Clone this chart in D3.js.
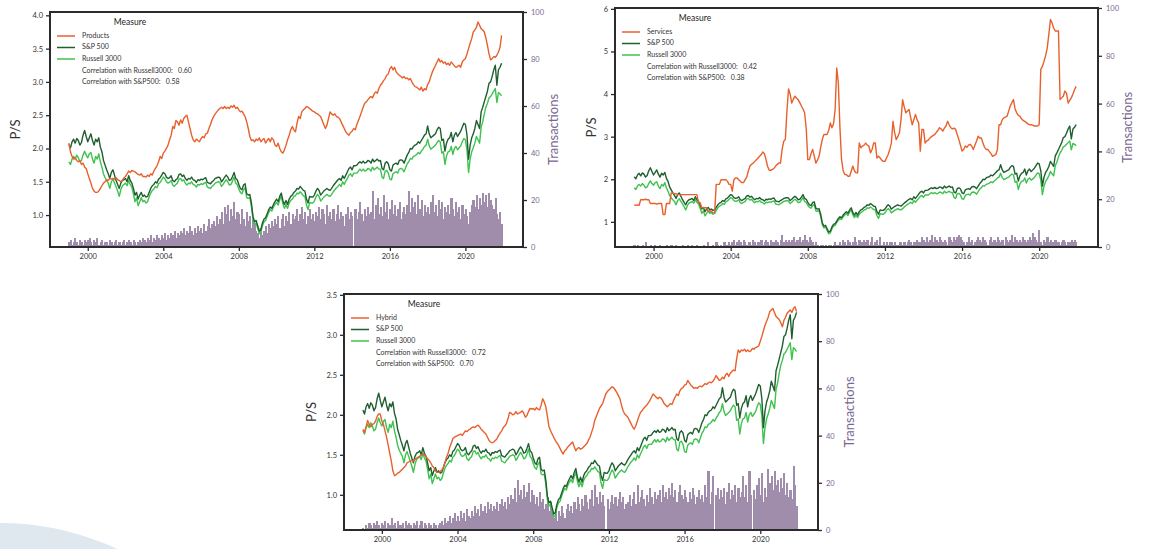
<!DOCTYPE html>
<html>
<head>
<meta charset="utf-8">
<script src="https://cdn.jsdelivr.net/npm/d3@7"></script>
<style>
  body { margin: 0; background: #fff; }
  svg { display: block; font-family: Lato, "Open Sans", sans-serif; }
</style>
</head>
<body>
<div id="chart"></div>
<script>
// monthly values, Jan 1999 .. Dec 2021
var startYear = 1999

var sp500 = [
  2.06, 2.01, 2.10, 2.14, 2.08, 2.15, 2.12, 2.05, 2.09, 2.20, 2.27, 2.18,
  2.10, 2.16, 2.22, 2.12, 2.05, 2.14, 2.10, 2.16, 2.02, 1.95, 1.82, 1.75,
  1.68, 1.62, 1.55, 1.64, 1.68, 1.60, 1.52, 1.46, 1.40, 1.48, 1.52, 1.53,
  1.55, 1.50, 1.59, 1.52, 1.48, 1.40, 1.30, 1.34, 1.24, 1.30, 1.34, 1.28,
  1.30, 1.27, 1.28, 1.34, 1.40, 1.44, 1.46, 1.50, 1.48, 1.54, 1.56, 1.60,
  1.64, 1.62, 1.57, 1.55, 1.56, 1.59, 1.52, 1.50, 1.53, 1.55, 1.61, 1.62,
  1.58, 1.60, 1.55, 1.52, 1.55, 1.54, 1.57, 1.53, 1.52, 1.49, 1.53, 1.52,
  1.54, 1.53, 1.55, 1.56, 1.49, 1.48, 1.47, 1.50, 1.52, 1.55, 1.56, 1.57,
  1.56, 1.50, 1.53, 1.57, 1.60, 1.57, 1.52, 1.53, 1.58, 1.64, 1.55, 1.53,
  1.46, 1.40, 1.38, 1.45, 1.47, 1.32, 1.30, 1.31, 1.18, 0.98, 0.90, 0.92,
  0.84, 0.76, 0.78, 0.88, 0.94, 0.96, 1.02, 1.08, 1.12, 1.10, 1.16, 1.20,
  1.24, 1.20, 1.28, 1.33, 1.22, 1.16, 1.22, 1.16, 1.24, 1.28, 1.30, 1.34,
  1.36, 1.40, 1.39, 1.43, 1.40, 1.37, 1.36, 1.24, 1.18, 1.28, 1.27, 1.27,
  1.30, 1.36, 1.40, 1.37, 1.30, 1.33, 1.36, 1.38, 1.40, 1.38, 1.37, 1.40,
  1.44, 1.47, 1.50, 1.53, 1.55, 1.52, 1.59, 1.55, 1.60, 1.65, 1.70, 1.72,
  1.68, 1.74, 1.74, 1.75, 1.78, 1.80, 1.78, 1.81, 1.78, 1.79, 1.82, 1.81,
  1.78, 1.84, 1.80, 1.82, 1.84, 1.81, 1.82, 1.70, 1.68, 1.78, 1.80, 1.77,
  1.68, 1.66, 1.75, 1.77, 1.78, 1.76, 1.82, 1.83, 1.82, 1.78, 1.84, 1.90,
  1.94, 2.00, 1.99, 2.03, 2.05, 2.06, 2.10, 2.08, 2.12, 2.16, 2.20, 2.22,
  2.34, 2.22, 2.16, 2.18, 2.20, 2.22, 2.28, 2.32, 2.30, 2.12, 2.14, 1.96,
  2.08, 2.14, 2.16, 2.24, 2.10, 2.20, 2.24, 2.18, 2.22, 2.26, 2.32, 2.38,
  2.36, 2.20, 1.84, 2.05, 2.16, 2.22, 2.30, 2.42, 2.36, 2.30, 2.55, 2.62,
  2.70, 2.78, 2.86, 2.98, 3.00, 3.08, 3.18, 3.25, 2.95, 3.18, 3.22, 3.28
]

var russell3000 = [
  1.80, 1.76, 1.84, 1.88, 1.84, 1.90, 1.86, 1.80, 1.82, 1.90, 1.96, 1.90,
  1.86, 1.92, 1.94, 1.84, 1.78, 1.88, 1.84, 1.92, 1.80, 1.72, 1.62, 1.56,
  1.52, 1.48, 1.40, 1.50, 1.54, 1.48, 1.42, 1.36, 1.28, 1.38, 1.44, 1.46,
  1.48, 1.44, 1.52, 1.46, 1.42, 1.32, 1.20, 1.26, 1.14, 1.20, 1.26, 1.20,
  1.22, 1.18, 1.20, 1.27, 1.33, 1.37, 1.39, 1.43, 1.41, 1.47, 1.49, 1.53,
  1.57, 1.55, 1.50, 1.48, 1.49, 1.52, 1.45, 1.43, 1.46, 1.48, 1.54, 1.55,
  1.51, 1.53, 1.48, 1.45, 1.48, 1.47, 1.50, 1.46, 1.45, 1.42, 1.46, 1.45,
  1.47, 1.46, 1.48, 1.49, 1.42, 1.41, 1.40, 1.43, 1.45, 1.48, 1.49, 1.50,
  1.49, 1.43, 1.46, 1.50, 1.53, 1.50, 1.45, 1.46, 1.51, 1.57, 1.48, 1.46,
  1.39, 1.34, 1.32, 1.38, 1.41, 1.26, 1.25, 1.26, 1.13, 0.94, 0.86, 0.88,
  0.80, 0.72, 0.74, 0.84, 0.90, 0.92, 0.98, 1.04, 1.08, 1.06, 1.12, 1.16,
  1.19, 1.15, 1.23, 1.28, 1.17, 1.10, 1.16, 1.10, 1.18, 1.22, 1.24, 1.28,
  1.29, 1.33, 1.32, 1.35, 1.32, 1.29, 1.28, 1.15, 1.08, 1.19, 1.18, 1.18,
  1.21, 1.27, 1.31, 1.28, 1.21, 1.24, 1.27, 1.29, 1.31, 1.29, 1.28, 1.31,
  1.35, 1.38, 1.41, 1.43, 1.46, 1.43, 1.50, 1.46, 1.51, 1.55, 1.60, 1.62,
  1.58, 1.63, 1.63, 1.63, 1.66, 1.69, 1.66, 1.69, 1.66, 1.67, 1.70, 1.69,
  1.66, 1.72, 1.68, 1.70, 1.72, 1.69, 1.69, 1.57, 1.55, 1.66, 1.67, 1.63,
  1.54, 1.53, 1.62, 1.64, 1.65, 1.63, 1.69, 1.70, 1.69, 1.65, 1.71, 1.77,
  1.80, 1.85, 1.84, 1.88, 1.89, 1.91, 1.94, 1.92, 1.96, 1.99, 2.03, 2.05,
  2.14, 2.04, 1.99, 2.01, 2.03, 2.05, 2.09, 2.12, 2.10, 1.93, 1.95, 1.76,
  1.89, 1.95, 1.96, 2.03, 1.91, 2.00, 2.03, 1.98, 2.01, 2.04, 2.10, 2.15,
  2.13, 1.98, 1.64, 1.84, 1.95, 2.01, 2.08, 2.18, 2.13, 2.08, 2.32, 2.40,
  2.52, 2.62, 2.68, 2.76, 2.78, 2.82, 2.86, 2.90, 2.69, 2.84, 2.82, 2.79
]

var products = [
  2.08, 1.95, 1.88, 1.84, 1.86, 1.82, 1.80, 1.82, 1.76, 1.78, 1.72, 1.70,
  1.62, 1.55, 1.48, 1.40, 1.36, 1.34, 1.34, 1.36, 1.40, 1.44, 1.48, 1.50,
  1.53, 1.52, 1.55, 1.54, 1.55, 1.54, 1.56, 1.53, 1.52, 1.50, 1.52, 1.56,
  1.58, 1.62, 1.66, 1.64, 1.67, 1.66, 1.65, 1.63, 1.61, 1.60, 1.62, 1.58,
  1.58, 1.57, 1.60, 1.58, 1.62, 1.60, 1.66, 1.70, 1.74, 1.80, 1.88, 1.85,
  1.93, 1.96, 2.00, 2.05, 2.13, 2.20, 2.33, 2.30, 2.42, 2.40, 2.35, 2.43,
  2.38, 2.45, 2.48, 2.50, 2.40, 2.30, 2.20, 2.13, 2.10, 2.14, 2.12, 2.10,
  2.15, 2.18, 2.16, 2.22, 2.23, 2.30, 2.36, 2.43, 2.48, 2.52, 2.55, 2.58,
  2.60, 2.62, 2.60, 2.63, 2.60, 2.62, 2.60, 2.64, 2.62, 2.65, 2.60, 2.62,
  2.58, 2.55, 2.56, 2.52, 2.48, 2.40, 2.30, 2.18, 2.12, 2.13, 2.10, 2.14,
  2.12, 2.16, 2.10, 2.13, 2.15, 2.08, 2.12, 2.15, 2.10, 2.16, 2.13, 2.05,
  2.03, 2.08, 2.00, 1.95, 1.93, 1.98, 2.05, 2.13, 2.20, 2.28, 2.33, 2.28,
  2.25, 2.38, 2.48, 2.45, 2.55, 2.58, 2.60, 2.63, 2.62, 2.60, 2.58, 2.56,
  2.55, 2.53, 2.52, 2.50, 2.48, 2.42, 2.36, 2.30, 2.35, 2.45, 2.55, 2.52,
  2.50, 2.52, 2.48, 2.47, 2.45, 2.40, 2.35, 2.30, 2.25, 2.22, 2.20, 2.24,
  2.26, 2.30, 2.28, 2.36, 2.42, 2.48, 2.55, 2.62, 2.68, 2.70, 2.73, 2.76,
  2.78, 2.76, 2.82, 2.85, 2.83, 2.90, 2.95, 2.98, 3.02, 3.05, 3.10, 3.12,
  3.20, 3.23, 3.18, 3.22, 3.15, 3.12, 3.10, 3.08, 3.06, 3.08, 3.05, 3.06,
  3.03, 3.05, 3.00, 2.96, 2.93, 2.92, 2.90, 2.88, 2.92, 2.86, 2.90, 2.88,
  2.96, 3.00, 3.08, 3.15, 3.20, 3.25, 3.30, 3.35, 3.30, 3.32, 3.28, 3.30,
  3.26, 3.28, 3.25, 3.30, 3.27, 3.24, 3.22, 3.23, 3.25, 3.22, 3.30, 3.33,
  3.35, 3.42, 3.50, 3.58, 3.65, 3.75, 3.78, 3.82, 3.90, 3.85, 3.80, 3.78,
  3.75, 3.66, 3.55, 3.42, 3.33, 3.35, 3.38, 3.37, 3.40, 3.45, 3.52, 3.70
]

var services = [
  1.39, 1.39, 1.40, 1.39, 1.52, 1.52, 1.52, 1.53, 1.52, 1.52, 1.43, 1.43,
  1.43, 1.43, 1.42, 1.43, 1.43, 1.43, 1.17, 1.17, 1.43, 1.43, 1.43, 1.68,
  1.68, 1.66, 1.66, 1.64, 1.64, 1.64, 1.64, 1.64, 1.64, 1.64, 1.64, 1.64,
  1.64, 1.64, 1.64, 1.64, 1.45, 1.45, 1.33, 1.33, 1.33, 1.33, 1.25, 1.25,
  1.25, 1.21, 1.21, 1.88, 1.88, 1.88, 1.99, 1.99, 1.99, 1.99, 1.95, 1.88,
  1.88, 1.72, 1.99, 2.03, 2.03, 1.99, 1.95, 1.92, 1.92, 1.99, 2.05, 2.20,
  2.31, 2.35, 2.38, 2.42, 2.46, 2.50, 2.54, 2.58, 2.64, 2.60, 2.46, 2.30,
  2.21, 2.21, 2.23, 2.26, 2.31, 2.35, 2.38, 2.38, 2.70, 2.89, 2.93, 3.60,
  4.12, 4.00, 3.79, 3.88, 3.95, 3.90, 3.87, 3.80, 3.72, 3.65, 3.56, 3.20,
  2.46, 2.46, 2.60, 2.70, 2.55, 2.38, 2.45, 2.54, 2.75, 2.93, 3.05, 3.05,
  3.05, 3.15, 3.32, 3.21, 3.30, 3.64, 4.61, 4.26, 3.20, 2.46, 2.20, 2.11,
  2.11, 2.07, 2.07, 2.19, 2.31, 2.20, 2.15, 2.15, 2.85, 2.74, 2.78, 2.80,
  2.85, 2.80, 2.78, 2.62, 2.70, 2.85, 2.85, 2.50, 2.54, 2.50, 2.45, 2.42,
  2.42, 2.50, 2.58, 2.70, 2.85, 3.36, 3.10, 2.93, 3.00, 3.09, 3.40, 3.87,
  3.70, 3.56, 3.60, 3.64, 3.45, 3.28, 3.40, 3.52, 3.40, 3.32, 2.66, 3.17,
  3.17, 2.85, 2.90, 2.92, 2.97, 3.00, 3.03, 3.05, 3.10, 3.15, 3.21, 3.18,
  3.13, 3.20, 3.25, 3.36, 3.28, 3.21, 3.18, 3.20, 3.17, 3.05, 2.93, 2.80,
  2.66, 2.70, 2.78, 2.75, 2.80, 2.82, 2.78, 2.70, 2.80, 2.90, 3.01, 2.97,
  2.97, 2.85, 2.75, 2.70, 2.70, 2.65, 2.60, 2.54, 2.56, 2.58, 2.70, 3.28,
  3.28, 3.40, 3.44, 3.46, 3.48, 3.60, 3.72, 3.80, 3.87, 3.65, 3.56, 3.50,
  3.48, 3.42, 3.38, 3.36, 3.33, 3.30, 3.28, 3.28, 3.27, 3.25, 3.25, 3.25,
  3.28, 4.58, 4.65, 4.77, 4.90, 5.08, 5.40, 5.75, 5.67, 5.55, 5.48, 5.48,
  5.48, 3.87, 3.91, 3.95, 4.07, 4.02, 3.79, 3.85, 3.91, 4.00, 4.10, 4.18
]

var hybrid = [
  1.82, 1.78, 1.85, 1.93, 1.88, 1.85, 1.88, 1.89, 1.92, 1.98, 2.01, 2.01,
  1.92, 1.88, 1.80, 1.72, 1.62, 1.52, 1.42, 1.30, 1.24, 1.25, 1.27, 1.28,
  1.30, 1.32, 1.34, 1.36, 1.40, 1.41, 1.42, 1.43, 1.42, 1.44, 1.46, 1.47,
  1.48, 1.50, 1.51, 1.50, 1.48, 1.45, 1.43, 1.40, 1.36, 1.34, 1.30, 1.28,
  1.28, 1.29, 1.31, 1.34, 1.40, 1.47, 1.52, 1.59, 1.64, 1.70, 1.72, 1.73,
  1.74, 1.75, 1.76, 1.74, 1.77, 1.80, 1.79, 1.81, 1.82, 1.84, 1.85, 1.84,
  1.86, 1.87, 1.85, 1.82, 1.80, 1.78, 1.76, 1.72, 1.68, 1.66, 1.65, 1.66,
  1.68, 1.70, 1.74, 1.77, 1.80, 1.84, 1.86, 1.89, 1.95, 2.03, 2.02, 2.00,
  2.01, 2.04, 2.01, 2.02, 2.03, 2.05, 2.02, 1.97, 1.99, 2.04, 2.08, 2.07,
  2.08, 2.06, 2.09, 2.07, 2.06, 2.12, 2.20, 2.16, 2.10, 1.98, 1.85, 1.80,
  1.76, 1.72, 1.68, 1.65, 1.62, 1.58, 1.54, 1.51, 1.55, 1.57, 1.60, 1.62,
  1.64, 1.66, 1.60, 1.55, 1.58, 1.59, 1.57, 1.58, 1.60, 1.62, 1.64, 1.68,
  1.72, 1.78, 1.84, 1.93, 1.98, 2.03, 2.08, 2.11, 2.14, 2.20, 2.26, 2.29,
  2.31, 2.33, 2.35, 2.34, 2.31, 2.28, 2.24, 2.20, 2.12, 2.05, 2.01, 1.99,
  1.97, 1.93, 1.89, 1.85, 1.82, 1.86, 1.92, 1.98, 2.03, 2.05, 2.08, 2.10,
  2.12, 2.15, 2.18, 2.22, 2.26, 2.24, 2.22, 2.20, 2.22, 2.21, 2.18, 2.14,
  2.12, 2.10, 2.12, 2.14, 2.13, 2.18, 2.22, 2.26, 2.24, 2.30, 2.33, 2.34,
  2.37, 2.38, 2.43, 2.40, 2.37, 2.35, 2.33, 2.34, 2.33, 2.35, 2.36, 2.35,
  2.37, 2.39, 2.38, 2.40, 2.41, 2.40, 2.42, 2.45, 2.49, 2.46, 2.43, 2.44,
  2.47, 2.45, 2.50, 2.52, 2.48, 2.52, 2.54, 2.56, 2.55, 2.70, 2.81, 2.78,
  2.81, 2.80, 2.82, 2.79, 2.81, 2.79, 2.80, 2.83, 2.82, 2.84, 2.85, 2.86,
  2.92, 2.98, 3.05, 3.12, 3.17, 3.22, 3.29, 3.31, 3.33, 3.28, 3.23, 3.21,
  3.19, 3.15, 3.10, 3.18, 3.22, 3.27, 3.29, 3.31, 3.28, 3.33, 3.35, 3.29
]

var productsTx = [
  2, 3, 1, 2, 4, 2, 1, 3, 2, 1, 3, 2,
  3, 4, 2, 1, 3, 2, 4, 1, 2, 3, 1, 2,
  2, 1, 3, 2, 1, 2, 3, 1, 2, 1, 2, 3,
  1, 2, 3, 2, 1, 3, 2, 1, 2, 3, 2, 4,
  3, 2, 4, 3, 5, 2, 4, 3, 5, 4, 3, 5,
  4, 6, 3, 5, 4, 6, 5, 7, 4, 6, 5, 7,
  6, 8, 5, 7, 6, 9, 7, 5, 8, 6, 9, 7,
  8, 6, 10, 7, 9, 12, 8, 10, 11, 9, 13, 10,
  12, 15, 10, 17, 14, 18, 11, 16, 13, 19, 12, 15,
  14, 10, 16, 12, 9, 15, 11, 13, 8, 12, 10, 7,
  6, 4, 8, 5, 7, 9, 6, 10, 8, 11, 9, 12,
  10, 13, 8, 12, 14, 9, 13, 11, 15, 10, 14, 12,
  13, 16, 11, 14, 17, 12, 15, 10, 13, 16, 12, 14,
  11, 15, 13, 17, 12, 16, 14, 10, 18, 13, 15, 12,
  16, 11, 14, 18, 12, 15, 13, 9, 14, 17, 12, 15,
  13, 0, 16, 12, 15, 19, 14, 11, 16, 13, 17, 14,
  15, 24, 12, 18, 21, 14, 17, 13, 22, 15, 19, 12,
  16, 20, 14, 18, 13, 16, 19, 12, 15, 17, 14, 18,
  24, 15, 21, 17, 19, 14, 22, 16, 20, 13, 18, 15,
  17, 14, 19, 22, 15, 18, 13, 20, 16, 19, 12, 17,
  15, 18, 14, 21, 16, 13, 19, 15, 17, 12, 18, 14,
  16, 13, 10, 15, 18, 20, 17, 22, 16, 21, 18, 23,
  19, 22, 17, 23, 20, 18, 16, 21, 14, 12, 15, 10
]

var servicesTx = [
  1, 0, 1, 0, 0, 1, 0, 2, 0, 0, 1, 0,
  0, 1, 0, 0, 1, 0, 0, 0, 1, 0, 0, 1,
  0, 0, 1, 0, 0, 0, 1, 0, 0, 1, 0, 0,
  1, 0, 0, 1, 0, 0, 0, 1, 0, 0, 2, 0,
  0, 1, 0, 2, 1, 0, 1, 0, 2, 1, 1, 2,
  1, 2, 3, 1, 2, 3, 2, 1, 3, 2, 1, 2,
  2, 1, 3, 2, 1, 2, 2, 3, 1, 2, 3, 2,
  1, 3, 2, 2, 3, 2, 1, 3, 5, 2, 3, 2,
  3, 2, 3, 4, 2, 3, 3, 4, 2, 3, 5, 3,
  2, 4, 3, 2, 1, 2, 1, 0, 1, 1, 0, 1,
  0, 1, 1, 0, 1, 2, 1, 1, 2, 1, 3, 2,
  1, 3, 2, 1, 2, 4, 2, 1, 3, 2, 2, 3,
  2, 3, 1, 2, 4, 1, 2, 3, 1, 4, 1, 2,
  1, 2, 1, 2, 2, 1, 2, 1, 1, 2, 2, 1,
  2, 1, 2, 3, 2, 1, 2, 2, 3, 2, 2, 4,
  3, 2, 4, 2, 3, 5, 2, 4, 3, 2, 4, 3,
  2, 3, 2, 1, 4, 3, 2, 4, 3, 4, 5, 4,
  3, 2, 1, 2, 4, 2, 3, 1, 2, 3, 4, 3,
  2, 4, 3, 2, 1, 3, 4, 2, 3, 2, 4, 3,
  2, 3, 1, 4, 3, 2, 3, 5, 2, 4, 3, 2,
  3, 2, 4, 3, 2, 3, 4, 3, 6, 4, 3, 2,
  7, 2, 1, 3, 2, 4, 2, 3, 2, 2, 3, 2,
  2, 1, 2, 3, 2, 1, 2, 2, 3, 2, 3, 2
]

var hybridTx = [
  1, 0, 2, 1, 3, 2, 1, 3, 2, 4, 2, 1,
  3, 2, 4, 1, 3, 2, 5, 2, 3, 1, 4, 2,
  2, 3, 1, 4, 2, 3, 2, 1, 3, 2, 4, 1,
  2, 4, 1, 3, 2, 1, 3, 2, 1, 3, 2, 1,
  2, 3, 4, 2, 5, 3, 4, 6, 3, 5, 7, 4,
  6, 4, 8, 5, 7, 4, 9, 6, 5, 8, 6, 10,
  7, 9, 6, 11, 8, 10, 7, 12, 9, 11, 8, 10,
  9, 12, 8, 11, 13, 10, 12, 9, 14, 11, 15, 13,
  18, 12, 21, 15, 17, 13, 19, 14, 16, 20, 12, 17,
  15, 11, 14, 10, 16, 12, 13, 9, 11, 14, 8, 12,
  7, 5, 9, 4, 8, 6, 10, 7, 5, 9, 11, 8,
  10, 7, 12, 9, 14, 11, 8, 13, 10, 15, 12, 9,
  13, 17, 10, 19, 14, 11, 16, 12, 15, 10, 0, 13,
  9, 12, 15, 11, 14, 10, 13, 16, 12, 14, 9, 11,
  12, 15, 10, 13, 16, 11, 19, 12, 14, 17, 13, 10,
  15, 12, 18, 14, 11, 16, 13, 15, 17, 12, 19, 14,
  16, 13, 18, 15, 20, 14, 17, 12, 16, 19, 15, 13,
  17, 14, 12, 16, 13, 18, 15, 11, 14, 17, 13, 15,
  12, 19, 14, 25, 11, 16, 23, 0, 15, 18, 13, 17,
  14, 18, 11, 16, 20, 13, 17, 15, 19, 12, 18, 14,
  16, 23, 14, 19, 12, 25, 15, 0, 17, 13, 19, 22,
  15, 24, 12, 18, 14, 26, 20, 23, 17, 25, 19, 21,
  16, 22, 18, 24, 15, 20, 14, 17, 13, 27, 19, 10
]

var yearTicks = [2000, 2004, 2008, 2012, 2016, 2020]
var txTicks = [0, 20, 40, 60, 80, 100]

var charts = [
  { name: 'Products', measure: products, tx: productsTx, corrR: '0.60', corrS: '0.58',
    left: 50, right: 523, top: 12, bottom: 247, yDomain: [0.52, 4.05],
    yTicks: [1.0, 1.5, 2.0, 2.5, 3.0, 3.5, 4.0], yFmt: '.1f', psX: 17, txX: 555 },
  { name: 'Services', measure: services, tx: servicesTx, corrR: '0.42', corrS: '0.38',
    left: 615, right: 1098, top: 8, bottom: 247, yDomain: [0.41, 6.02],
    yTicks: [1, 2, 3, 4, 5, 6], yFmt: 'd', psX: 593, txX: 1129 },
  { name: 'Hybrid', measure: hybrid, tx: hybridTx, corrR: '0.72', corrS: '0.70',
    left: 344, right: 818, top: 294, bottom: 530, yDomain: [0.56, 3.51],
    yTicks: [1.0, 1.5, 2.0, 2.5, 3.0, 3.5], yFmt: '.1f', psX: 313, txX: 851 }
]

var orange = '#e8602c'
var darkGreen = '#1f5f2f'
var lightGreen = '#3fc24f'
var barColor = '#9f8dab'
var axisColor = '#2b2b2b'
var purpleText = '#7a6690'

var svg = d3.select('#chart')
  .append('svg')
  .attr('width', 1150)
  .attr('height', 549)

// decorative background shape, bottom left
svg.append('circle')
  .attr('cx', 0)
  .attr('cy', 800)
  .attr('r', 277)
  .attr('fill', '#dfe8ef')

function monthYear(i) {
  return startYear + i / 12
}

charts.forEach(function(c) {

  var x = d3.scaleLinear().domain([1998.0, 2023.05]).range([c.left, c.right])
  var y = d3.scaleLinear().domain(c.yDomain).range([c.bottom, c.top])
  var yTx = d3.scaleLinear().domain([0, 100]).range([c.bottom, c.top])

  var g = svg.append('g')
  var step = x(startYear + 1 / 12) - x(startYear)

  g.selectAll('rect.bar')
    .data(c.tx)
    .enter()
    .append('rect')
    .attr('class', 'bar')
    .attr('x', function(d, i) { return x(monthYear(i)) - step / 2 })
    .attr('y', function(d) { return yTx(d) })
    .attr('width', step + 0.5)
    .attr('height', function(d) { return c.bottom - yTx(d) })
    .attr('fill', barColor)
    .attr('shape-rendering', 'crispEdges')

  var line = d3.line()
    .x(function(d, i) { return x(monthYear(i)) })
    .y(function(d) { return y(d) })

  var series = [
    { values: russell3000, color: lightGreen },
    { values: sp500, color: darkGreen },
    { values: c.measure, color: orange }
  ]

  series.forEach(function(s) {
    g.append('path')
      .datum(s.values)
      .attr('d', line)
      .attr('fill', 'none')
      .attr('stroke', s.color)
      .attr('stroke-width', 1.4)
      .attr('stroke-linejoin', 'round')
  })

  // frame
  g.append('rect')
    .attr('x', c.left)
    .attr('y', c.top)
    .attr('width', c.right - c.left)
    .attr('height', c.bottom - c.top)
    .attr('fill', 'none')
    .attr('stroke', axisColor)
    .attr('stroke-width', 2)

  var xAxis = g.append('g')
    .attr('transform', 'translate(0,' + c.bottom + ')')
    .call(d3.axisBottom(x).tickValues(yearTicks).tickFormat(d3.format('d')).tickSize(4).tickPadding(3))
  var yAxis = g.append('g')
    .attr('transform', 'translate(' + c.left + ',0)')
    .call(d3.axisLeft(y).tickValues(c.yTicks).tickFormat(d3.format(c.yFmt)).tickSize(4).tickPadding(3))
  var rAxis = g.append('g')
    .attr('transform', 'translate(' + c.right + ',0)')
    .call(d3.axisRight(yTx).tickValues(txTicks).tickSize(4).tickPadding(4))

  ;[xAxis, yAxis, rAxis].forEach(function(a) {
    a.select('.domain').remove()
    a.selectAll('line').attr('stroke', axisColor).attr('stroke-width', 1.3)
    a.selectAll('text').attr('font-size', '7.5px').attr('fill', '#333')
      .attr('font-family', 'Lato, sans-serif')
  })
  rAxis.selectAll('text').attr('fill', purpleText)

  var midY = (c.top + c.bottom) / 2

  g.append('text')
    .attr('transform', 'translate(' + c.psX + ',' + midY + ') rotate(-90)')
    .attr('text-anchor', 'middle')
    .attr('dominant-baseline', 'middle')
    .attr('font-size', '13px')
    .attr('fill', '#333')
    .text('P/S')

  g.append('text')
    .attr('transform', 'translate(' + c.txX + ',' + midY + ') rotate(-90)')
    .attr('text-anchor', 'middle')
    .attr('dominant-baseline', 'middle')
    .attr('font-size', '13px')
    .attr('fill', purpleText)
    .text('Transactions')

  // legend
  var lg = g.append('g').attr('transform', 'translate(' + c.left + ',' + c.top + ')')

  lg.append('text')
    .attr('x', 80)
    .attr('y', 11)
    .attr('text-anchor', 'middle')
    .attr('dominant-baseline', 'middle')
    .attr('font-size', '8.5px')
    .attr('fill', '#222')
    .text('Measure')

  var entries = [
    { label: c.name, color: orange, yy: 24 },
    { label: 'S&P 500', color: darkGreen, yy: 35.5 },
    { label: 'Russell 3000', color: lightGreen, yy: 47 }
  ]

  entries.forEach(function(e) {
    lg.append('line')
      .attr('x1', 7).attr('x2', 25)
      .attr('y1', e.yy).attr('y2', e.yy)
      .attr('stroke', e.color)
      .attr('stroke-width', 1.5)
    lg.append('text')
      .attr('x', 32)
      .attr('y', e.yy)
      .attr('dominant-baseline', 'middle')
      .attr('font-size', '7px')
      .attr('fill', '#333')
      .text(e.label)
  })

  lg.append('text')
    .attr('x', 32).attr('y', 59)
    .attr('dominant-baseline', 'middle')
    .attr('font-size', '7px')
    .attr('fill', '#333')
    .attr('xml:space', 'preserve')
    .text('Correlation with Russell3000:   ' + c.corrR)

  lg.append('text')
    .attr('x', 32).attr('y', 70.5)
    .attr('dominant-baseline', 'middle')
    .attr('font-size', '7px')
    .attr('fill', '#333')
    .attr('xml:space', 'preserve')
    .text('Correlation with S&P500:   ' + c.corrS)
})
</script>
</body>
</html>
